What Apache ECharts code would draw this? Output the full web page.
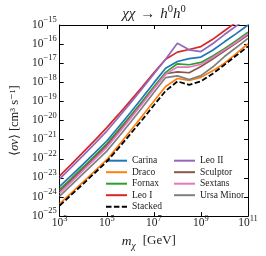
<!DOCTYPE html>
<html><head><meta charset="utf-8">
<script src="https://cdn.jsdelivr.net/npm/echarts@6/dist/echarts.min.js"></script>
<style>html,body{margin:0;padding:0;background:#fff}#c{width:266px;height:256px}</style>
</head><body><div id="c"></div>
<script>
// log10 of dark matter mass m_chi [GeV]
const massLog = [3, 3.5, 4, 4.5, 5, 5.5, 6, 6.5, 7, 7.5, 8, 8.5, 9, 9.5, 10, 10.5, 11];
// log10 of <sigma v> [cm^3 s^-1]
const carinaLog   = [-23.45, -22.87, -22.28, -21.68, -21.07, -20.34, -19.59, -18.82, -18.03, -17.26, -16.91, -16.76, -16.68, -16.32, -15.88, -15.45, -15.0];
const dracoLog    = [-24.35, -23.78, -23.21, -22.63, -22.05, -21.31, -20.55, -19.78, -18.99, -18.22, -17.8, -17.9, -17.74, -17.4, -17.0, -16.5, -15.98];
const fornaxLog   = [-23.6, -23.02, -22.43, -21.83, -21.22, -20.5, -19.76, -19.01, -18.23, -17.48, -17.03, -17.08, -16.96, -16.62, -16.24, -15.82, -15.38];
const leoILog     = [-22.9, -22.28, -21.65, -21.02, -20.37, -19.68, -18.97, -18.25, -17.5, -16.79, -16.42, -16.28, -16.13, -15.75, -15.3, -14.85, -14.4];
const leoIILog    = [-23.05, -22.44, -21.82, -21.19, -20.55, -19.83, -19.09, -18.34, -17.56, -16.79, -15.95, -16.30, -16.39, -15.98, -15.5, -15.05, -14.6];
const sculptorLog = [-23.7, -23.11, -22.51, -21.91, -21.3, -20.58, -19.84, -19.09, -18.31, -17.55, -17.45, -17.5, -17.17, -16.78, -16.36, -15.95, -15.52];
const sextansLog  = [-23.8, -23.21, -22.61, -22.01, -21.4, -20.66, -19.9, -19.13, -18.34, -17.57, -17.2, -17.2, -17.06, -16.7, -16.3, -15.9, -15.45];
const ursaMinorLog= [-23.95, -23.37, -22.78, -22.19, -21.6, -20.86, -20.1, -19.33, -18.53, -17.75, -17.66, -17.85, -17.65, -17.2, -16.65, -16.18, -15.7];
const stackedLog  = [-24.45, -23.88, -23.31, -22.73, -22.15, -21.44, -20.71, -19.97, -19.2, -18.45, -17.95, -18.13, -17.95, -17.55, -17.08, -16.6, -16.12];

const names = ['Carina','Draco','Fornax','Leo I','Leo II','Sculptor','Sextans','Ursa Minor','Stacked'];
const logs = [carinaLog, dracoLog, fornaxLog, leoILog, leoIILog, sculptorLog, sextansLog, ursaMinorLog, stackedLog];
const colors = ['#1f77b4','#ff7f0e','#2ca02c','#d62728','#9467bd','#8c564b','#e377c2','#7f7f7f','#000000'];

const FF = '"Liberation Serif", "DejaVu Serif", serif';
const TXT = '#222';

function supLabel(v){
  const e = Math.round(v);
  const s = e < 0 ? '\u2212' + (-e) : String(e);
  return '{b|10}{e|' + s + '}';
}
const supRich = {
  b: {fontFamily: FF, fontSize: 11.5, color: TXT, lineHeight: 11, verticalAlign: 'bottom'},
  e: {fontFamily: FF, fontSize: 8.5, color: TXT, lineHeight: 8, padding: [0,0,6,0], verticalAlign: 'bottom'}
};

const series = names.map((n, i) => ({
  name: n,
  type: 'line',
  data: massLog.map((m, j) => [m, logs[i][j]]),
  symbol: 'none',
  showSymbol: false,
  clip: true,
  z: n === 'Stacked' ? 5 : 3,
  lineStyle: {color: colors[i], width: n === 'Stacked' ? 1.8 : 1.7, type: n === 'Stacked' ? [5.5, 2.4] : 'solid'},
  itemStyle: {color: colors[i]}
}));

const axX = {type: 'value', min: 3, max: 11, interval: 2};
const axY = {type: 'value', min: -25, max: -15, interval: 1};
const line = {show: true, onZero: false, lineStyle: {color: '#000', width: 1}};
const tick = {show: true, inside: true, length: 4, lineStyle: {color: '#000'}};
const legCommon = {
  orient: 'vertical', top: 155.7, padding: 0,
  itemWidth: 21, itemHeight: 10, itemGap: 1.5,
  itemStyle: {opacity: 0},
  lineStyle: {opacity: 1},
  textStyle: {fontFamily: FF, fontSize: 9.5, color: TXT, lineHeight: 10}
};

const chart = echarts.init(document.getElementById('c'), null, {renderer: 'canvas'});
chart.setOption({
  animation: false,
  backgroundColor: '#fff',
  grid: {left: 55, right: 18, top: 25, bottom: 39, containLabel: false},
  graphic: [{
    type: 'text', x: 154, y: 15,
    style: {
      text: '{a|\u03c7\u03c7}{b|\u2192}{a|h}{s|0}{a|h}{s|0}',
      textAlign: 'center', textVerticalAlign: 'middle',
      rich: {
        a: {fontFamily: FF, fontSize: 15, fontStyle: 'italic', fill: TXT, lineHeight: 14, verticalAlign: 'bottom'},
        b: {fontFamily: FF, fontSize: 15, fill: TXT, lineHeight: 14, padding: [0,5,0,5], verticalAlign: 'bottom'},
        s: {fontFamily: FF, fontSize: 10.5, fill: TXT, lineHeight: 10, padding: [0,0,7,0], verticalAlign: 'bottom'}
      }
    }
  }],
  legend: [Object.assign({}, legCommon, {
    data: ['Carina','Draco','Fornax','Leo I','Stacked'], left: 105
  }), Object.assign({}, legCommon, {
    data: ['Leo II','Sculptor','Sextans','Ursa Minor'], left: 173
  })],
  xAxis: [Object.assign({}, axX, {
    position: 'bottom',
    name: '{i|m}{s|\u03c7}{n|[GeV]}',
    nameLocation: 'middle', nameGap: 16,
    nameTextStyle: {padding: [0, 10, 0, 0], rich: {
      i: {fontFamily: FF, fontSize: 13.5, fontStyle: 'italic', color: TXT, lineHeight: 14, verticalAlign: 'top'},
      s: {fontFamily: FF, fontSize: 9.5, fontStyle: 'italic', color: TXT, lineHeight: 8, padding: [7,0,0,0], verticalAlign: 'top'},
      n: {fontFamily: FF, fontSize: 13, color: TXT, lineHeight: 14, padding: [0,0,0,7], verticalAlign: 'top'}
    }},
    axisLine: line, axisTick: tick,
    splitLine: {show: false},
    axisLabel: {formatter: supLabel, rich: supRich, margin: 2}
  }), Object.assign({}, axX, {
    position: 'top',
    axisLine: line, axisTick: tick,
    splitLine: {show: false},
    axisLabel: {show: false}
  })],
  yAxis: [Object.assign({}, axY, {
    position: 'left',
    name: '\u27e8{i|\u03c3v}\u27e9 [cm\u00b3 s\u207b\u00b9]',
    nameLocation: 'middle', nameGap: 37, nameRotate: 90,
    nameTextStyle: {fontFamily: FF, fontSize: 12.5, color: TXT, rich: {
      i: {fontFamily: FF, fontSize: 12.5, fontStyle: 'italic', color: TXT}
    }},
    axisLine: line, axisTick: tick,
    splitLine: {show: false},
    axisLabel: {formatter: supLabel, rich: supRich, margin: 3}
  }), Object.assign({}, axY, {
    position: 'right',
    axisLine: line, axisTick: tick,
    splitLine: {show: false},
    axisLabel: {show: false}
  })],
  series: series
});
</script>
</body></html>
